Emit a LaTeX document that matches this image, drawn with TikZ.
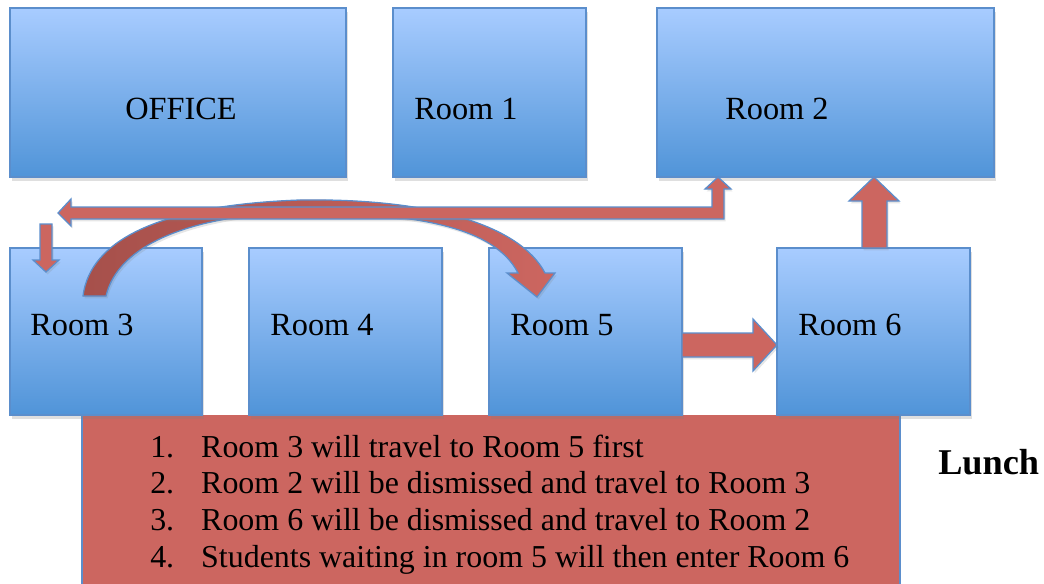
\documentclass[tikz,border=0pt]{standalone}
\usepackage{fontspec}
\setmainfont{Liberation Serif}
\usetikzlibrary{shadows}
\definecolor{boxtop}{RGB}{168,204,255}
\definecolor{boxbot}{RGB}{80,148,216}
\definecolor{boxline}{RGB}{91,142,204}
\definecolor{arrowred}{RGB}{204,102,96}
\definecolor{arrowdark}{RGB}{166,80,75}
\begin{document}
\begin{tikzpicture}[x=0.025cm, y=-0.025cm,
  room/.style={draw=boxline, line width=1.2pt, top color=boxtop, bottom color=boxbot,
    inner sep=0pt, minimum width=4.825cm, minimum height=4.175cm,
    drop shadow={shadow xshift=0.5mm, shadow yshift=-0.9mm, opacity=0.25}},
  lbl/.style={anchor=base west, inner sep=0pt, font=\fontsize{23}{27}\selectfont},
  blockarrow/.style={fill=arrowred, draw=boxline, line width=0.9pt,
    drop shadow={shadow xshift=0.4mm, shadow yshift=-0.6mm, opacity=0.2}}]
\clip (0,0) rectangle (1044,584);
\node[fill=arrowred, minimum width=20.425cm, minimum height=4.5cm, inner sep=0pt, anchor=north west] (notes) at (82,415) {};
\draw[boxline, line width=1.2pt] (notes.north west) -- (notes.south west) (notes.north east) -- (notes.south east);
\node[room, minimum width=8.4cm, minimum height=4.225cm] (office) at (178,92.5) {};
\node[room, minimum height=4.225cm] (room1) at (489.5,92.5) {};
\node[room, minimum width=8.425cm, minimum height=4.225cm] (room2) at (825.5,92.5) {};
\node[room, minimum width=4.8cm] (room3) at (106,331.5) {};
\node[room] (room4) at (345.5,331.5) {};
\node[room] (room5) at (585.5,331.5) {};
\node[room] (room6) at (873.5,331.5) {};
\node[lbl] (officetxt) at (125,120) {OFFICE};
\node[lbl] (room1txt) at (414,120) {Room 1};
\node[lbl] (room2txt) at (725,120) {Room 2};
\node[lbl] (room3txt) at (30,335) {Room 3};
\node[lbl] (room4txt) at (270,335) {Room 4};
\node[lbl] (room5txt) at (510,335) {Room 5};
\node[lbl] (room6txt) at (798,335) {Room 6};
\filldraw[blockarrow, left color=arrowdark, right color=arrowred] (83,296) .. controls (90,240) and (160,205) .. (300,200)
  .. controls (430,198) and (520,225) .. (545,273) -- (555,273) -- (537,297) -- (507,273) -- (518,273)
  .. controls (495,228) and (420,213) .. (300,212) .. controls (190,215) and (118,245) .. (106,296) -- cycle;
\filldraw[blockarrow] (58,213) -- (71,199) -- (71,207) -- (712,207) -- (712,189) -- (705,189) -- (718,177)
  -- (731,189) -- (724,189) -- (724,219) -- (71,219) -- (71,226) -- cycle;
\filldraw[blockarrow] (40,224) -- (52,224) -- (52,260) -- (59,260) -- (46,272) -- (33,260) -- (40,260) -- cycle;
\filldraw[blockarrow] (682,333) -- (753,333) -- (753,319) -- (777,345) -- (753,371) -- (753,357) -- (682,357) -- cycle;
\filldraw[blockarrow] (862,248) -- (862,201) -- (849,201) -- (874,177) -- (899,201) -- (887,201) -- (887,248) -- cycle;
\node[anchor=base west, inner sep=0pt, font=\fontsize{22.7}{26.3}\selectfont] (steps) at (150,457) {%
  \begin{tabular}[t]{@{}r@{\hspace{0.675cm}}l@{}}
  1. & Room 3 will travel to Room 5 first\\
  2. & Room 2 will be dismissed and travel to Room 3\\
  3. & Room 6 will be dismissed and travel to Room 2\\
  4. & Students waiting in room 5 will then enter Room 6
  \end{tabular}};
\node[anchor=base west, inner sep=0pt, font=\fontsize{25.8}{30}\selectfont\bfseries] (lunch) at (938,474) {Lunch};
\end{tikzpicture}
\end{document}
